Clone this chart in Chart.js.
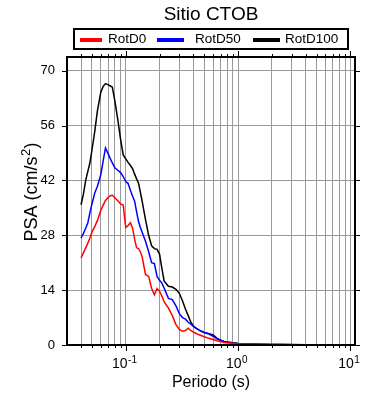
<!DOCTYPE html>
<html>
<head>
<meta charset="utf-8">
<script src="https://cdn.jsdelivr.net/npm/chart.js@4.4.1/dist/chart.umd.min.js"></script>
<style>
  html, body { margin: 0; padding: 0; background: #fff; }
</style>
</head>
<body>
<canvas id="psa" width="390" height="400"></canvas>
<script>
const periods = [
  0.04, 0.042, 0.044, 0.046, 0.048, 0.05, 0.053, 0.056, 0.06, 0.063,
  0.066, 0.07, 0.073, 0.076, 0.08, 0.085, 0.09, 0.095, 0.1, 0.105,
  0.11, 0.115, 0.12, 0.125, 0.13, 0.135, 0.14, 0.15, 0.16, 0.17,
  0.18, 0.19, 0.2, 0.21, 0.22, 0.24, 0.26, 0.28, 0.3, 0.32,
  0.34, 0.36, 0.38, 0.4, 0.42, 0.45, 0.5, 0.55, 0.6, 0.65,
  0.7, 0.75, 0.8, 0.9, 1.0, 1.2, 1.5, 2, 2.5, 3,
  4, 5, 6, 7, 8, 10,
];

const rotD0 = [
  22.2, 23.5, 24.8, 26.0, 27.3, 28.8, 30.2, 31.8, 34.4, 35.7,
  36.9, 37.7, 38.1, 38.2, 37.6, 36.8, 36.0, 35.7, 30.0, 30.5,
  31.2, 29.8, 27.0, 24.8, 24.6, 23.8, 22.5, 18.0, 17.5, 14.5,
  12.8, 14.4, 13.7, 12.5, 11.0, 9.4, 7.5, 5.2, 4.0, 3.5,
  3.7, 4.3, 3.7, 3.3, 3.0, 2.6, 2.1, 1.7, 1.4, 1.1,
  0.9, 0.65, 0.55, 0.45, 0.35, 0.25, 0.18, 0.12, 0.1, 0.08,
  0.06, 0.05, 0.04, 0.035, 0.03, 0.025,
];

const rotD50 = [
  27.3, 28.5, 29.8, 31.2, 33.8, 36.0, 38.8, 40.5, 43.5, 47.0,
  50.3, 48.7, 47.5, 46.5, 45.2, 44.6, 44.0, 43.0, 41.7, 41.2,
  39.5, 38.0, 36.7, 34.0, 31.5, 30.0, 28.8, 26.5, 23.8, 21.0,
  20.8, 17.5, 16.5, 15.8, 14.5, 11.9, 11.6, 10.0, 8.0, 7.0,
  6.6, 5.8, 5.3, 4.8, 4.3, 3.8, 3.2, 2.8, 2.2, 1.6,
  1.2, 0.9, 0.7, 0.55, 0.4, 0.3, 0.2, 0.14, 0.11, 0.09,
  0.07, 0.05, 0.045, 0.04, 0.03, 0.025,
];

const rotD100 = [
  35.8, 38.5, 42.0, 44.3, 46.5, 49.7, 54.5, 59.8, 64.5, 66.0,
  66.7, 66.4, 66.1, 65.8, 62.3, 57.5, 52.5, 48.5, 47.5, 46.6,
  45.8, 45.0, 43.6, 42.4, 41.3, 39.0, 36.7, 32.0, 28.0, 25.3,
  24.6, 24.4, 23.2, 19.5, 16.3, 15.0, 14.8, 14.2, 13.2, 11.3,
  9.2, 7.5, 5.8, 4.8, 4.4, 3.8, 3.2, 2.9, 2.6, 1.7,
  1.2, 0.9, 0.75, 0.55, 0.4, 0.3, 0.22, 0.15, 0.12, 0.1,
  0.08, 0.06, 0.05, 0.04, 0.035, 0.03,
];

const seriesNames  = ['RotD0', 'RotD50', 'RotD100'];
const seriesColors = ['#ff0000', '#0000ff', '#000000'];

// marcas del eje x (log): todas con rejilla, solo las décadas con texto
const xTicks = [
  0.04, 0.05, 0.06, 0.07, 0.08, 0.09,
  0.1, 0.2, 0.3, 0.4, 0.5, 0.6, 0.7, 0.8, 0.9,
  1, 2, 3, 4, 5, 6, 7, 8, 9, 10,
];
const xDecadeExp = { 0.1: '-1', 1: '0', 10: '1' };
const yTicks = [0, 14, 28, 42, 56, 70];

const FONT = '"Liberation Sans", Arial, Helvetica, sans-serif';

// texto con superíndice estilo GMT: base + exponente pequeño elevado
function supText(ctx, base, sup, tail, size, x, y, align) {
  ctx.font = size + 'px ' + FONT;
  const wb = ctx.measureText(base).width;
  const wt = ctx.measureText(tail).width;
  ctx.font = Math.round(size * 0.7) + 'px ' + FONT;
  const ws = ctx.measureText(sup).width;
  const total = wb + ws + 1 + wt;
  let x0 = align === 'center' ? x - total / 2 : x;
  ctx.textAlign = 'left';
  ctx.font = size + 'px ' + FONT;
  ctx.fillText(base, x0, y);
  ctx.font = Math.round(size * 0.7) + 'px ' + FONT;
  ctx.fillText(sup, x0 + wb + 0.5, y - size * 0.38);
  ctx.font = size + 'px ' + FONT;
  ctx.fillText(tail, x0 + wb + ws + 1, y);
}

const frameAndLegend = {
  id: 'frameAndLegend',
  afterDraw(chart) {
    const { ctx, chartArea: a, scales } = chart;
    ctx.save();
    ctx.strokeStyle = '#000';

    // marcas exteriores
    ctx.lineWidth = 1;
    ctx.beginPath();
    scales.x.ticks.forEach(t => {
      const px = Math.round(scales.x.getPixelForValue(t.value)) + 0.5;
      const len = xDecadeExp[t.value] ? 6 : 3;
      ctx.moveTo(px, a.bottom); ctx.lineTo(px, a.bottom + len);
      ctx.moveTo(px, a.top);    ctx.lineTo(px, a.top - len);
    });
    scales.y.ticks.forEach(t => {
      const py = Math.round(scales.y.getPixelForValue(t.value)) + 0.5;
      ctx.moveTo(a.left - 5, py);  ctx.lineTo(a.left, py);
      ctx.moveTo(a.right, py);     ctx.lineTo(a.right + 5, py);
    });
    ctx.stroke();

    // marco
    ctx.lineWidth = 2;
    ctx.strokeRect(a.left, a.top, a.right - a.left, a.bottom - a.top);

    ctx.fillStyle = '#000';
    ctx.textBaseline = 'alphabetic';

    // etiquetas de décadas del eje x
    scales.x.ticks.forEach(t => {
      const exp = xDecadeExp[t.value];
      if (!exp) return;
      const px = scales.x.getPixelForValue(t.value);
      supText(ctx, '10', exp, '', 14, px - 1, a.bottom + 23, 'center');
    });

    // título del eje y
    ctx.save();
    ctx.translate(31, (a.top + a.bottom) / 2 - 9);
    ctx.rotate(-Math.PI / 2);
    supText(ctx, 'PSA (cm/s', '2', ')', 18, 0, 6, 'center');
    ctx.restore();

    // título
    ctx.font = '19px ' + FONT;
    ctx.textAlign = 'center';
    ctx.textBaseline = 'middle';
    ctx.fillText('Sitio CTOB', (a.left + a.right) / 2, 15);

    // leyenda
    ctx.lineWidth = 2;
    ctx.strokeRect(74, 29, 274, 20);
    const items = [
      { x1: 80,  x2: 102, tx: 108 },
      { x1: 157, x2: 184, tx: 195 },
      { x1: 253, x2: 280, tx: 285 },
    ];
    ctx.font = '13.5px ' + FONT;
    ctx.textAlign = 'left';
    items.forEach((it, i) => {
      ctx.strokeStyle = seriesColors[i];
      ctx.lineWidth = 4;
      ctx.beginPath();
      ctx.moveTo(it.x1, 40); ctx.lineTo(it.x2, 40);
      ctx.stroke();
      ctx.fillText(seriesNames[i], it.tx, 39.5);
    });
    ctx.restore();
  },
};

const series = [rotD0, rotD50, rotD100];

new Chart(document.getElementById('psa'), {
  type: 'line',
  data: {
    datasets: series.map((vals, i) => ({
      label: seriesNames[i],
      data: periods.map((t, j) => ({ x: t, y: vals[j] })),
      borderColor: seriesColors[i],
      borderWidth: 1.5,
      pointRadius: 0,
      tension: 0,
      fill: false,
    })),
  },
  options: {
    responsive: false,
    animation: false,
    devicePixelRatio: 1,
    layout: { padding: { top: 57, right: 35, left: 0, bottom: 0 } },
    plugins: { legend: { display: false }, title: { display: false }, tooltip: { enabled: false } },
    scales: {
      x: {
        type: 'logarithmic',
        min: 0.03,
        max: 11,
        afterBuildTicks: s => { s.ticks = xTicks.map(v => ({ value: v })); },
        afterFit: s => { s.height = 55; },
        ticks: { display: false, autoSkip: false, maxRotation: 0 },
        grid: { color: '#9a9a9a', lineWidth: 1, drawTicks: false },
        border: { display: false },
        title: {
          display: true,
          text: 'Periodo (s)',
          color: '#000',
          font: { size: 16, family: FONT },
          padding: { top: 0, bottom: 8 },
        },
      },
      y: {
        min: 0,
        max: 73.5,
        afterBuildTicks: s => { s.ticks = yTicks.map(v => ({ value: v })); },
        afterFit: s => { s.width = 67; },
        ticks: {
          padding: 12,
          color: '#000',
          font: { size: 13, family: FONT },
        },
        grid: { color: '#9a9a9a', lineWidth: 1, drawTicks: false },
        border: { display: false },
        title: { display: false },
      },
    },
  },
  plugins: [frameAndLegend],
});
</script>
</body>
</html>
